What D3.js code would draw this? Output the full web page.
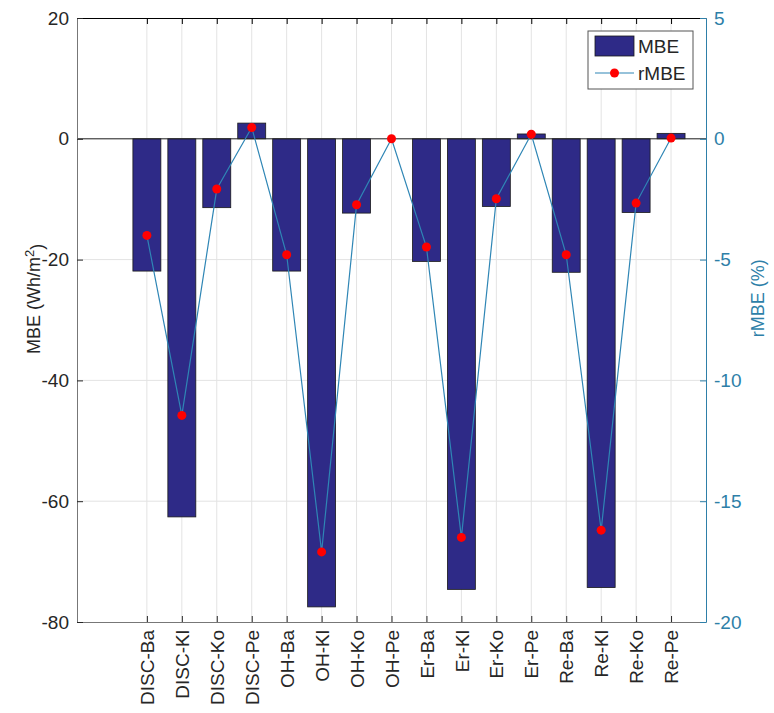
<!DOCTYPE html>
<html>
<head>
<meta charset="utf-8">
<script src="https://cdn.jsdelivr.net/npm/d3@7"></script>
<style>
	body { margin: 0; background: #fff; }
	text { font-family: "Liberation Sans", Arial, sans-serif; }
</style>
</head>
<body>
<div id="chart"></div>
<script>
var categories = ['DISC-Ba', 'DISC-Kl', 'DISC-Ko', 'DISC-Pe', 'OH-Ba', 'OH-Kl', 'OH-Ko', 'OH-Pe',
	'Er-Ba', 'Er-Kl', 'Er-Ko', 'Er-Pe', 'Re-Ba', 'Re-Kl', 'Re-Ko', 'Re-Pe'];
var mbeValues = [-21.9, -62.6, -11.4, 2.6, -21.9, -77.5, -12.3, 0.0,
	-20.3, -74.6, -11.2, 0.8, -22.1, -74.3, -12.2, 0.9];
var rmbeValues = [-4.0, -11.45, -2.08, 0.47, -4.8, -17.1, -2.73, 0.0,
	-4.48, -16.5, -2.48, 0.19, -4.8, -16.2, -2.66, 0.03];
var leftTicks = [-80, -60, -40, -20, 0, 20];
var rightTicks = [-20, -15, -10, -5, 0, 5];

var margin = {top: 18, right: 68, bottom: 91, left: 77};
var width = 774, height = 713;
var innerW = width - margin.left - margin.right,
	innerH = height - margin.top - margin.bottom;
var barColor = '#2E2A87',
	lineColor = '#2F86B5',
	rightColor = '#2E7FA8';
var fontSize = '19px';
var fmt = function(d) { return String(d); }; // plain hyphen minus like the original

var svg = d3.select('#chart').append('svg')
	.attr('width', width)
	.attr('height', height)
	.append('g')
	.attr('transform', 'translate(' + margin.left + ',' + margin.top + ')');

// x positions: categories at 2..17 on a 0..18 axis
var x = d3.scaleLinear().domain([0, 18]).range([0, innerW]);
var step = x(1) - x(0);
var yL = d3.scaleLinear().domain([-80, 20]).range([innerH, 0]);
var yR = d3.scaleLinear().domain([-20, 5]).range([innerH, 0]);

// grid
svg.append('g').selectAll('line.vg')
	.data(categories)
	.enter().append('line')
	.attr('x1', function(d, i) { return x(i + 2); })
	.attr('x2', function(d, i) { return x(i + 2); })
	.attr('y1', 0).attr('y2', innerH)
	.attr('stroke', '#e3e3e3').attr('stroke-width', 1);
svg.append('g').selectAll('line.hg')
	.data(leftTicks.filter(function(d) { return d > -80 && d < 20; }))
	.enter().append('line')
	.attr('x1', 0).attr('x2', innerW)
	.attr('y1', function(d) { return yL(d); })
	.attr('y2', function(d) { return yL(d); })
	.attr('stroke', '#e3e3e3').attr('stroke-width', 1);

// bars
svg.selectAll('.bar')
	.data(mbeValues)
	.enter().append('rect')
	.attr('class', 'bar')
	.attr('x', function(d, i) { return x(i + 2) - step * 0.4; })
	.attr('width', step * 0.8)
	.attr('y', function(d) { return yL(Math.max(0, d)); })
	.attr('height', function(d) { return Math.abs(yL(d) - yL(0)); })
	.attr('fill', barColor)
	.attr('stroke', '#1a1a1a')
	.attr('stroke-width', 0.8);

// baseline
svg.append('line')
	.attr('x1', 0).attr('x2', innerW)
	.attr('y1', yL(0)).attr('y2', yL(0))
	.attr('stroke', '#262626').attr('stroke-width', 1);

// rMBE line + markers
var line = d3.line()
	.x(function(d, i) { return x(i + 2); })
	.y(function(d) { return yR(d); });
svg.append('path')
	.datum(rmbeValues)
	.attr('d', line)
	.attr('fill', 'none')
	.attr('stroke', lineColor)
	.attr('stroke-width', 1.2);
svg.selectAll('.dot')
	.data(rmbeValues)
	.enter().append('circle')
	.attr('cx', function(d, i) { return x(i + 2); })
	.attr('cy', function(d) { return yR(d); })
	.attr('r', 4.5)
	.attr('fill', '#ff0000');

// axes
var xAxis = svg.append('g')
	.attr('transform', 'translate(0,' + innerH + ')')
	.call(d3.axisBottom(x)
		.tickValues(d3.range(2, 18))
		.tickFormat(function(d) { return categories[d - 2]; })
		.tickSizeInner(-6).tickSizeOuter(0));
xAxis.selectAll('text')
	.attr('transform', 'rotate(-90)')
	.attr('text-anchor', 'end')
	.attr('x', -8).attr('y', 0)
	.attr('dy', '0.35em')
	.style('font-size', fontSize)
	.attr('fill', '#262626');

// top box line with ticks
svg.append('g')
	.call(d3.axisTop(x).tickValues(d3.range(2, 18)).tickFormat('')
		.tickSizeInner(-6).tickSizeOuter(0));

var leftAxis = svg.append('g')
	.call(d3.axisLeft(yL).tickValues(leftTicks).tickFormat(fmt)
		.tickSizeInner(-6).tickSizeOuter(0));
leftAxis.selectAll('text')
	.attr('x', -8)
	.style('font-size', fontSize)
	.attr('fill', '#262626');

var rightAxis = svg.append('g')
	.attr('transform', 'translate(' + innerW + ',0)')
	.call(d3.axisRight(yR).tickValues(rightTicks).tickFormat(fmt)
		.tickSizeInner(-6).tickSizeOuter(0));
rightAxis.selectAll('text')
	.attr('x', 8)
	.style('font-size', fontSize)
	.attr('fill', rightColor);
rightAxis.selectAll('line').attr('stroke', rightColor);
rightAxis.select('.domain').attr('stroke', rightColor);

[xAxis, leftAxis].forEach(function(a) {
	a.selectAll('line').attr('stroke', '#262626');
	a.select('.domain').attr('stroke', '#777');
});

// axis labels
var yLab = svg.append('text')
	.attr('transform', 'translate(-37,' + (yL(-26.5)) + ') rotate(-90)')
	.attr('text-anchor', 'middle')
	.style('font-size', '18px')
	.attr('fill', '#262626');
yLab.append('tspan').text('MBE (Wh/m');
yLab.append('tspan').attr('dy', '-0.5em').style('font-size', '13px').text('2');
yLab.append('tspan').attr('dy', '0.5em').text(')');

svg.append('text')
	.attr('transform', 'translate(' + (innerW + 58) + ',' + yR(-6.6) + ') rotate(-90)')
	.attr('text-anchor', 'middle')
	.style('font-size', '18px')
	.attr('fill', rightColor)
	.text('rMBE (%)');

// legend
var legend = svg.append('g')
	.attr('transform', 'translate(' + (innerW - 118) + ',13)');
legend.append('rect')
	.attr('width', 105).attr('height', 58)
	.attr('fill', '#fff').attr('stroke', '#555').attr('stroke-width', 1);
legend.append('rect')
	.attr('x', 7).attr('y', 5).attr('width', 39).attr('height', 20)
	.attr('fill', barColor).attr('stroke', '#1a1a1a').attr('stroke-width', 0.8);
legend.append('text')
	.attr('x', 50).attr('y', 22)
	.style('font-size', fontSize).attr('fill', '#262626')
	.text('MBE');
legend.append('line')
	.attr('x1', 7).attr('x2', 46).attr('y1', 42).attr('y2', 42)
	.attr('stroke', lineColor).attr('stroke-width', 1.2);
legend.append('circle')
	.attr('cx', 26.5).attr('cy', 42).attr('r', 4.5).attr('fill', '#ff0000');
legend.append('text')
	.attr('x', 50).attr('y', 49)
	.style('font-size', fontSize).attr('fill', '#262626')
	.text('rMBE');
</script>
</body>
</html>
